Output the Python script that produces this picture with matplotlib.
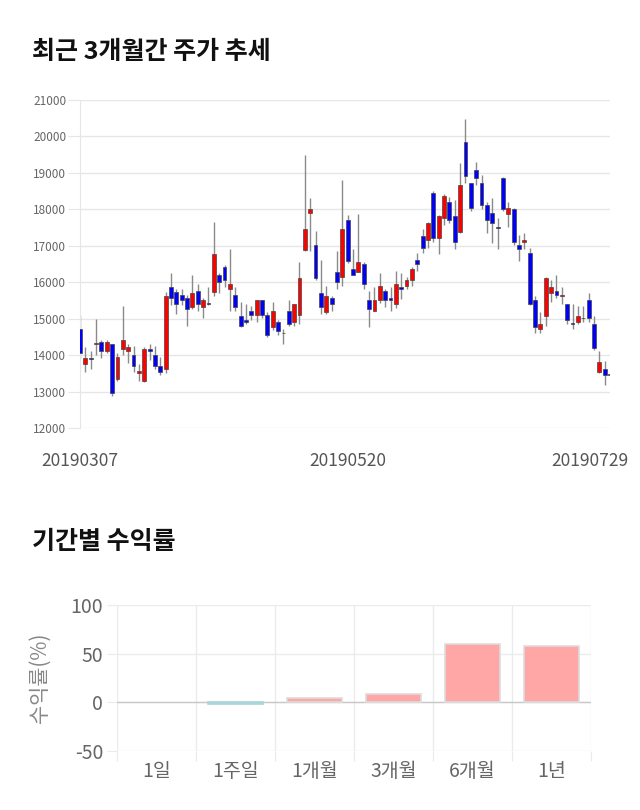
import matplotlib
matplotlib.use("Agg")
import matplotlib.pyplot as plt
import matplotlib.transforms as mtransforms
import pandas as pd

plt.rcParams['font.family'] = ['Noto Sans CJK KR', 'DejaVu Sans']
plt.rcParams['axes.unicode_minus'] = False

# daily candles, 2019-03-07 .. 2019-07-29 (KRX trading days)
holidays = ['2019-05-01', '2019-05-06', '2019-06-06']
dates = [d.strftime('%Y%m%d') for d in pd.bdate_range('2019-03-07', '2019-07-29')
         if d.strftime('%Y-%m-%d') not in holidays]

opens = [14710, 13750, 13920, 14300, 14360, 14100, 14310, 13350, 14160, 14100,
         14010, 13510, 13300, 14170, 14010, 13710, 13620, 15860, 15720, 15650,
         15560, 15310, 15750, 15310, 15430, 15720, 16200, 16410, 15810, 15650,
         15060, 14970, 15210, 15100, 15500, 15100, 14770, 14900, 14610, 15210,
         14900, 15100, 16890, 17910, 17010, 15700, 15170, 15560, 16290, 16150,
         17710, 16360, 16290, 16500, 15520, 15200, 15520, 15760, 15560, 15410,
         15860, 15910, 16050, 16610, 17270, 17160, 18460, 17200, 17750, 18210,
         17820, 17390, 19850, 18710, 19090, 18710, 18110, 17910, 17520, 18850,
         17860, 18010, 17020, 17100, 16810, 15520, 14710, 15060, 15700, 15760,
         15610, 15410, 14870, 14900, 15020, 15520, 14860, 13550, 13620, 13470]
highs = [15100, 14210, 14120, 15000, 14420, 14420, 14310, 14050, 15350, 14310,
         14250, 13760, 14210, 14310, 14250, 13960, 15740, 16260, 15810, 15810,
         15650, 16200, 15950, 15560, 15860, 17640, 16260, 16470, 16900, 15860,
         15460, 15400, 15350, 15500, 15520, 15170, 15460, 14970, 14720, 15520,
         15400, 16550, 19500, 18300, 17400, 16610, 15910, 15610, 16860, 18800,
         17840, 16900, 17860, 16550, 15760, 15860, 16260, 15810, 15860, 16310,
         16260, 16150, 16410, 16810, 17450, 17660, 18500, 17840, 18410, 18350,
         18260, 19260, 20490, 18710, 19290, 18940, 18190, 18300, 17750, 18890,
         18190, 18050, 17300, 17340, 16950, 15610, 15170, 16150, 16060, 16200,
         15860, 15410, 15410, 15350, 15350, 15700, 15060, 14100, 13850, 13470]
lows = [13920, 13550, 13620, 14010, 13920, 14050, 12870, 13300, 14010, 13780,
        13550, 13300, 13260, 13870, 13620, 13460, 13510, 15380, 15120, 15380,
        14810, 15260, 15200, 15010, 15380, 15630, 15700, 15880, 15210, 15210,
        14770, 14860, 14970, 14900, 15010, 14510, 14680, 14560, 14310, 14810,
        14810, 14860, 16860, 16860, 16060, 15120, 15120, 15210, 15810, 15910,
        16520, 16200, 16290, 15810, 14770, 15200, 15420, 15310, 15210, 15290,
        15540, 15810, 15910, 16310, 16810, 16950, 17110, 16770, 17570, 17620,
        16900, 17360, 18710, 17960, 18670, 18000, 17360, 17070, 16900, 17960,
        17510, 17020, 16590, 16900, 15380, 14600, 14600, 14810, 15470, 15560,
        15410, 14860, 14710, 14860, 14900, 14900, 14150, 13510, 13170, 13460]
closes = [14050, 13920, 13900, 14320, 14100, 14360, 12950, 13960, 14420, 14220,
          13710, 13570, 14170, 14100, 13710, 13550, 15610, 15560, 15410, 15500,
          15260, 15700, 15410, 15500, 15400, 16770, 16000, 16050, 15950, 15310,
          14810, 14900, 15100, 15500, 15100, 14560, 15210, 14650, 14600, 14860,
          15400, 16110, 17450, 18010, 16110, 15310, 15610, 15410, 16000, 17450,
          16590, 16200, 16550, 15950, 15260, 15520, 15910, 15500, 15500, 15950,
          15810, 16060, 16360, 16500, 16950, 17620, 17200, 17820, 18360, 17710,
          17110, 18670, 18910, 18050, 18850, 18120, 17710, 17620, 17500, 18010,
          18050, 17110, 16900, 17160, 15410, 14760, 14860, 16110, 15860, 15650,
          15650, 14970, 14860, 15060, 15010, 15010, 14190, 13810, 13460, 13460]

tick_dates = ['20190307', '20190520', '20190729']

periods = ['1일', '1주일', '1개월', '3개월', '6개월', '1년']
returns = [0.0, -1.4, 4.5, 8.9, 59.9, 57.5]

fig = plt.figure(figsize=(6.4, 8.1), dpi=100)

fig.text(32 / 640, 1 - 52 / 810, '최근 3개월간 주가 추세', fontsize=18,
         fontweight='heavy', va='center', ha='left', color='#111111')
fig.text(32 / 640, 1 - 542 / 810, '기간별 수익률', fontsize=18,
         fontweight='heavy', va='center', ha='left', color='#111111')

# ---- candlestick panel ----
ax = fig.add_axes([80 / 640, 1 - 428 / 810, 530 / 640, 328 / 810])
for i in range(len(opens)):
    o, h, l, c = opens[i], highs[i], lows[i], closes[i]
    col = '#ff0000' if c > o else '#0000ff'
    ax.vlines(i, l, h, color='#8a8a8a', linewidth=1, zorder=2)
    body = max(abs(c - o), 20)
    ax.bar(i, body, bottom=min(o, c), width=0.72, color=col,
           edgecolor='#444444', linewidth=0.5, zorder=3)

ax.set_xlim(0, len(opens) - 1)
ax.set_ylim(12000, 21000)
ax.set_yticks(range(12000, 21001, 1000))
ax.grid(axis='y', color='#e6e6e6', linewidth=1)
ax.set_axisbelow(True)
for s in ['top', 'right', 'bottom']:
    ax.spines[s].set_visible(False)
ax.spines['left'].set_color('#e6e6e6')
ax.tick_params(axis='y', length=9, color='#e6e6e6', labelsize=8.5,
               labelcolor='#666666', pad=1)
ax.set_xticks([dates.index(d) for d in tick_dates])
ax.set_xticklabels(tick_dates)
ax.tick_params(axis='x', length=0, labelsize=12.5, labelcolor='#555555', pad=17)
lbls = ax.get_xticklabels()
lbls[-1].set_transform(lbls[-1].get_transform() +
                       mtransforms.ScaledTranslation(-0.2, 0, fig.dpi_scale_trans))

# ---- returns panel ----
bx = fig.add_axes([117 / 640, 1 - 751 / 810, 474 / 640, 146 / 810])
xs = list(range(len(periods)))
for x, r in zip(xs, returns):
    if r == 0:
        continue
    if r > 0:
        bx.bar(x, r, width=0.69, color='#ffa6a6', edgecolor='#dddddd',
               linewidth=1.2, zorder=3)
    else:
        bx.bar(x, r, width=0.69, color='#a8d6d9', edgecolor='#a8d6d9',
               linewidth=1.2, zorder=3)
bx.axhline(0, color='#c8c8c8', linewidth=1, zorder=2)
bx.set_xlim(-0.5, len(periods) - 0.5)
bx.set_ylim(-50, 100)
bx.set_yticks([-50, 0, 50, 100])
bx.set_xticks([x - 0.5 for x in range(len(periods) + 1)])
bx.set_xticklabels([])
bx.set_xticks(xs, minor=True)
bx.set_xticklabels(periods, minor=True)
bx.grid(axis='both', which='major', color='#ebebeb', linewidth=1)
bx.set_axisbelow(True)
for s in bx.spines.values():
    s.set_visible(False)
bx.tick_params(axis='x', which='major', length=7, color='#ebebeb')
bx.tick_params(axis='x', which='minor', length=0, labelsize=14,
               labelcolor='#666666', pad=7)
bx.tick_params(axis='y', length=7, color='#ebebeb', labelsize=14,
               labelcolor='#666666', pad=3)
bx.set_ylabel('수익률(%)', fontsize=15, color='#888888')
bx.yaxis.set_label_coords(-0.14, 0.5)

fig.savefig('out.png', dpi=100)
